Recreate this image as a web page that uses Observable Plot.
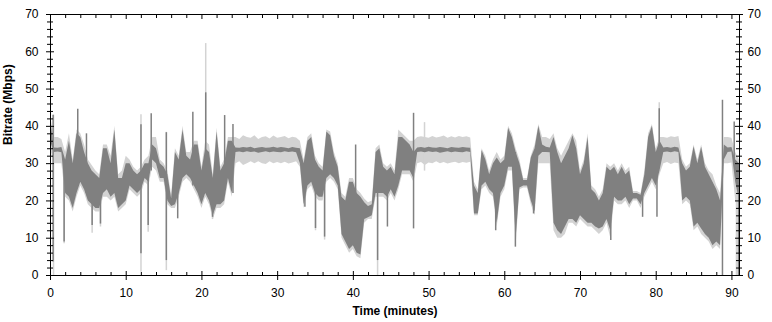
<!DOCTYPE html>
<html><head><meta charset="utf-8">
<script src="https://cdn.jsdelivr.net/npm/d3@7"></script>
<script src="https://cdn.jsdelivr.net/npm/@observablehq/plot@0.6"></script>
<style>body{margin:0;background:#fff}svg{display:block}</style>
</head><body><div id="chart"></div>
<script>
// sample times (minutes), one every half minute from 0 to 91
const minutes = d3.range(0, 91.5, 0.5);

// average bitrate (dark gray) low / high envelope, Mbps
const darkLo = [
36,33,33.1,32.9,22,21,18,22,25,23,
20,19,18,18,22,23,21,22,18,19,
20,24,23,22,23,26,25,31,30,26,
26,20,18.5,19,22,26,27,26,24,22,
19,22,20,16,19,19,20,26,22,33,
33.1,32.9,33.2,33,33.1,32.8,33,33.2,32.9,33.1,
33,32.9,33.2,33,33.1,32.9,30,19,24,25,
22,21,21,26,27,26,24,11,9,7,
8,6,5.5,15,15.5,16,22,22,22,21,
23,21,24,28,28,28,26,33,33.1,32.9,
33.2,33,33.1,32.8,33,33.2,32.9,33.1,33,32.9,
33.2,33,16.5,16.5,24,25,23,22,14,22,
24,29,29,10,23.5,24,24,20,17,32,
33,33,32.9,14,12,11,13,15,15,14,
16,15,14,14,13,12.5,13,15,12,21,
20,20,21,19,20.5,20.5,19,22,24,26,
24,28,33,33.1,32.9,33.2,33,20,21,20,
13,14,12.5,11,10,8,9,8,31,33,
33.1,25,20];
const darkHi = [
42,34.2,34.1,34.3,31,36,30,38,37,33,
30,28,27,26,34,34,30,39,26,26,
30,30,28,27,28,30,30,35,34,30,
29,27,20.5,33,31,39,32,31,35,35,
28,34,33,26,38.5,28,30,36,36,34.2,
34.1,34.3,34.2,34.4,34,34.2,34.3,34.1,34.2,34.4,
34.1,34.3,34.2,34,34.3,34.1,34,30,36,37,
31,29,28,38.5,37.5,32,29,21,20,25,
25,22,21,19.5,18.5,19,33,34,29,28,
29,27,37,37,36,35,33,34.2,34.3,34.1,
34.4,34.2,34.1,34.3,34.2,34,34.3,34.2,34.1,34.3,
34.2,34.1,24,22,33.5,31,27,30,31.5,30,
31,39.5,37,33,30,25.5,25.5,31.5,34,40,
35,34.4,34.2,37,33,30,32,34,37.5,34,
27,30,37,23,22,20,22,29,28,29,
27,29,27,28,22,22,21.5,27,37,40,
33,36,34.2,34.3,34.1,34.4,34.2,30,28,29,
34.5,30,34.4,29,27,25,23,20,35,34.2,
34.3,31,30];
// peak range (light gray) low / high envelope, Mbps
const lightLo = [
34,30,30,30,21,20,17,21,24,22,
19,18,17,17,21,21,20,21,17,18,
19,23,22,21,22,25,24,29,28,25,
25,19,18,18,21,25,26,25,23,21,
18,21,19,15,18,18,19,25,21,30,
30.5,29.5,30,30.5,30,30.5,30,29.8,30.5,30,
30.3,30,30.4,29.9,30.2,30.5,29,18,23,24,
21,20,20,25,26,25,23,10,8,6,
7,5,4.5,14,15,15,21,21,21,20,
22,20,23,27,27,27,25,30,30.3,29.5,
30.2,30,30.5,30,30.3,29.9,30.2,30.4,30,30.3,
30.1,30.4,16,16,23,24,22,21,13,21,
23,28,28,8,23,23.5,23.5,19,16,30,
30,30,30,12,10,10,11,14,14,13,
15,14,13,13,12,11,12,14,10,20,
19,19,20,18,20,20,18,21,23,25,
23,27,30,30.3,29.8,30.2,30,19,20,19,
12,13,11,10,9,7,8,7,30,30,
30.2,20,18];
const lightHi = [
43,37,37,36.5,33,38,31,39,38,35,
31,29.5,28,27,35,35,32,40,27,28,
32,31,29,28,29,31,32,37,37,31,
30,28,21.5,34,32,40,33,33,36,36,
29,36,35,27,39.5,29,31,37,37,37,
36.5,37.5,37,36.8,37.5,36.5,37,37.2,36.6,37.4,
36.8,37,37.3,36.7,37.1,36.9,36,31,37,38,
32,30,29,39,38.5,33,30,22,21,26,
26,23,22,20.5,19.5,20,34,35,30,29,
30,28,39,38,37,36,36,37,37.2,37,
36.8,37.3,36.9,37.1,37.4,36.8,37.2,36.9,37.3,37,
37.2,36.9,25,23,34,32,28,31,33,31,
32,40,38,34,31,26,26,32,35,40.5,
37,37,36.5,38,34,32,34,36,38,36,
28,31,38,24,23,21,23,30,29,30,
28,30,28,29,22.5,22.5,22,28,38,40.5,
34,37,37,36.8,37.2,37,37.3,31,29,30,
35,31,35,30,28,27,24,22,37,37,
36.8,33,31];

// short spikes of the average (dark)
const spikeMin = [0.35,1.8,3.6,4.75,5.5,6.6,11.95,12.9,13.3,15.3,16.8,18.8,20.5,21.4,23.0,24.1,33.6,35.0,36.2,40.3,43.2,44.5,47.95,58.8,61.4,63.8,74.0,78.2,80.1,80.4,88.75,90.3,90.9];
const spikeLo  = [3.6,9,25,22,13.4,13.8,5.8,13.4,28,4,15.2,24,22,15.6,24,22,18.3,12.6,10.3,10,4,13,12.5,12,7.6,16.5,9.4,15.6,15.6,30,0,30,0];
const spikeHi  = [43,30,44.6,38,25,24,40.4,28,43.4,38.3,25,43.8,49,22,42.9,40.5,30,25,28,35,30,25,43.5,30,33,30,28,22,30,44.7,47,41.2,30];
// short spikes of the peak range (light)
const peakSpikeMin = [0.4,1.8,5.5,6.6,11.95,12.9,15.3,20.5,21.4,35.0,36.2,43.2,49.4,80.4,90.6,90.75];
const peakSpikeLo  = [0,8.5,11.3,13,0.9,11.6,1.3,22,15,12,9.5,0,28,30,0,0];
const peakSpikeHi  = [43,31,25,24,43.1,28,38.4,62.2,22,25,28,30,41,46.3,30,30];

// axis ticks
const majorX = [0,10,20,30,40,50,60,70,80,90];
const minorX = [2,4,6,8,12,14,16,18,22,24,26,28,32,34,36,38,42,44,46,48,52,54,56,58,62,64,66,68,72,74,76,78,82,84,86,88];
const majorY = [0,10,20,30,40,50,60,70];
const minorY = [2,4,6,8,12,14,16,18,22,24,26,28,32,34,36,38,42,44,46,48,52,54,56,58,62,64,66,68];

const series = minutes.map((m, i) => ({m, dLo: darkLo[i], dHi: darkHi[i], lLo: lightLo[i], lHi: lightHi[i]}));
const darkSpikes = spikeMin.map((m, i) => ({m, lo: spikeLo[i], hi: spikeHi[i]}));
const lightSpikes = peakSpikeMin.map((m, i) => ({m, lo: peakSpikeLo[i], hi: peakSpikeHi[i]}));

const W = 772, H = 322, ML = 50, MR = 33, MT = 14, MB = 47;
const FW = W - ML - MR, FH = H - MT - MB;
const LIGHT = "#d3d3d3", DARK = "#808080";
const id = d => d;

const chart = Plot.plot({
  width: W, height: H,
  marginLeft: ML, marginRight: MR, marginTop: MT, marginBottom: MB,
  x: {domain: [0, 91], axis: null},
  y: {domain: [0, 70], axis: null},
  style: {fontFamily: "'Liberation Sans', Arial, sans-serif", fontSize: "12px", background: "#fff", color: "#000"},
  marks: [
    Plot.areaY(series, {x: "m", y1: "lLo", y2: "lHi", fill: LIGHT}),
    Plot.ruleX(lightSpikes, {x: "m", y1: "lo", y2: "hi", stroke: LIGHT, strokeWidth: 1.5}),
    Plot.areaY(series, {x: "m", y1: "dLo", y2: "dHi", fill: DARK}),
    Plot.ruleX(darkSpikes, {x: "m", y1: "lo", y2: "hi", stroke: DARK, strokeWidth: 1.5}),
    Plot.frame({stroke: "#000"}),
    // bottom ticks
    Plot.ruleX(majorX, {x: id, insetTop: FH - 4, insetBottom: -5, stroke: "#000"}),
    Plot.ruleX(minorX, {x: id, insetTop: FH - 3, stroke: "#000"}),
    // top ticks
    Plot.ruleX(majorX, {x: id, insetBottom: FH - 5, stroke: "#000"}),
    Plot.ruleX(minorX, {x: id, insetBottom: FH - 4, stroke: "#000"}),
    // left ticks
    Plot.ruleY(majorY, {y: id, insetLeft: -4, insetRight: FW - 4, stroke: "#000"}),
    Plot.ruleY(minorY, {y: id, insetLeft: -3, insetRight: FW - 3, stroke: "#000"}),
    // right ticks
    Plot.ruleY(majorY, {y: id, insetLeft: FW - 4, insetRight: -4, stroke: "#000"}),
    Plot.ruleY(minorY, {y: id, insetLeft: FW - 3, insetRight: -3, stroke: "#000"}),
    // tick labels
    Plot.text(majorX, {x: id, text: d => String(d), frameAnchor: "bottom", dy: 13, lineAnchor: "top", fontSize: 12, fill: "#000"}),
    Plot.text(majorY, {y: id, text: d => String(d), frameAnchor: "left", dx: -12, textAnchor: "end", fontSize: 12, fill: "#000"}),
    Plot.text(majorY, {y: id, text: d => String(d), frameAnchor: "right", dx: 8, textAnchor: "start", fontSize: 12, fill: "#000"}),
    // axis titles
    Plot.text(["Time (minutes)"], {text: id, frameAnchor: "bottom", dy: 39, fontSize: 12, fontWeight: "bold", fill: "#000"}),
    Plot.text(["Bitrate (Mbps)"], {text: id, frameAnchor: "left", dx: -42, rotate: -90, fontSize: 12, fontWeight: "bold", fill: "#000"})
  ]
});
document.getElementById("chart").appendChild(chart);
</script>
</body></html>
